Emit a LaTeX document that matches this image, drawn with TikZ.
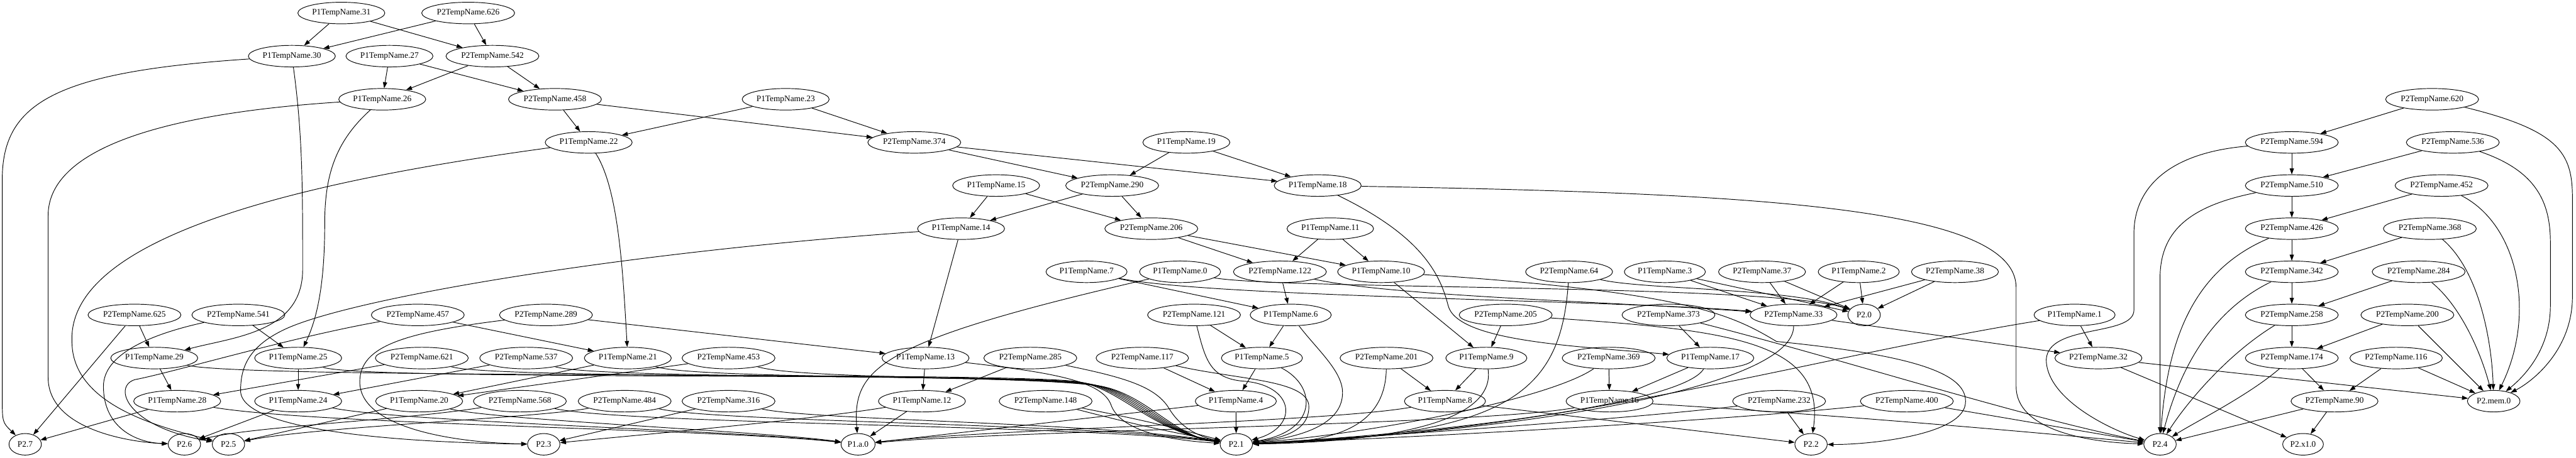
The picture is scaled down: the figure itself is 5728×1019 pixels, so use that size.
\documentclass[tikz,border=0pt]{standalone}
\usepackage{fontspec}
\setmainfont{Liberation Serif}
\usetikzlibrary{arrows.meta,shapes.geometric}

\begin{document}
\begin{tikzpicture}[x=0.75pt,y=-0.75pt]
    \useasboundingbox (0,0) rectangle (5728,1019);
    \begin{scope}[every node/.style={draw,ellipse,line width=1pt,inner xsep=2.6pt,inner ysep=0pt,
                  minimum height=36pt,minimum width=54pt,font=\fontsize{14pt}{16pt}\selectfont}]
        \node (p31) at (759,29) {P1TempName.31};
        \node (q626) at (1041,29) {P2TempName.626};

        \node (p30) at (649,125) {P1TempName.30};
        \node (p27) at (866,125) {P1TempName.27};
        \node (q542) at (1095,125) {P2TempName.542};

        \node (p26) at (850,221) {P1TempName.26};
        \node (q458) at (1234,221) {P2TempName.458};
        \node (p23) at (1747,221) {P1TempName.23};
        \node (q620) at (5408,221) {P2TempName.620};

        \node (p22) at (1309,317) {P1TempName.22};
        \node (q374) at (2033,317) {P2TempName.374};
        \node (p19) at (2638,317) {P1TempName.19};
        \node (q594) at (5096,317) {P2TempName.594};
        \node (q536) at (5454,317) {P2TempName.536};

        \node (p15) at (2215,413) {P1TempName.15};
        \node (q290) at (2473,413) {P2TempName.290};
        \node (p18) at (2930,413) {P1TempName.18};
        \node (q510) at (5096,413) {P2TempName.510};
        \node (q452) at (5429,413) {P2TempName.452};

        \node (p14) at (2137,509) {P1TempName.14};
        \node (q206) at (2560,509) {P2TempName.206};
        \node (p11) at (2958,509) {P1TempName.11};
        \node (q426) at (5096,509) {P2TempName.426};
        \node (q368) at (5403,509) {P2TempName.368};

        \node (p7) at (2416,605) {P1TempName.7};
        \node (p0) at (2624,605) {P1TempName.0};
        \node (q122) at (2846,605) {P2TempName.122};
        \node (p10) at (3071,605) {P1TempName.10};
        \node (q64) at (3489,605) {P2TempName.64};
        \node (p3) at (3702,605) {P1TempName.3};
        \node (q37) at (3918,605) {P2TempName.37};
        \node (p2) at (4133,605) {P1TempName.2};
        \node (q38) at (4347,605) {P2TempName.38};
        \node (q342) at (5096,605) {P2TempName.342};
        \node (q284) at (5378,605) {P2TempName.284};

        \node (q625) at (299,701) {P2TempName.625};
        \node (q541) at (530,701) {P2TempName.541};
        \node (q457) at (929,701) {P2TempName.457};
        \node (q289) at (1214,701) {P2TempName.289};
        \node (q121) at (2655,701) {P2TempName.121};
        \node (p6) at (2870,701) {P1TempName.6};
        \node (q205) at (3348,701) {P2TempName.205};
        \node (q373) at (3710,701) {P2TempName.373};
        \node (q33) at (3988,701) {P2TempName.33};
        \node (r0) at (4145,701) {P2.0};
        \node (p1) at (4613,701) {P1TempName.1};
        \node (q258) at (5096,701) {P2TempName.258};
        \node (q200) at (5353,701) {P2TempName.200};

        \node (p29) at (343,797) {P1TempName.29};
        \node (p25) at (663,797) {P1TempName.25};
        \node (q621) at (938,797) {P2TempName.621};
        \node (q537) at (1170,797) {P2TempName.537};
        \node (p21) at (1396,797) {P1TempName.21};
        \node (q453) at (1620,797) {P2TempName.453};
        \node (p13) at (2058,797) {P1TempName.13};
        \node (q285) at (2291,797) {P2TempName.285};
        \node (q117) at (2540,797) {P2TempName.117};
        \node (p5) at (2806,797) {P1TempName.5};
        \node (q201) at (3083,797) {P2TempName.201};
        \node (p9) at (3305,797) {P1TempName.9};
        \node (q369) at (3577,797) {P2TempName.369};
        \node (p17) at (3803,797) {P1TempName.17};
        \node (q32) at (4666,797) {P2TempName.32};
        \node (q174) at (5096,797) {P2TempName.174};
        \node (q116) at (5328,797) {P2TempName.116};

        \node (p28) at (394,893) {P1TempName.28};
        \node (p24) at (663,893) {P1TempName.24};
        \node (p20) at (932,893) {P1TempName.20};
        \node (q568) at (1156,893) {P2TempName.568};
        \node (q484) at (1389,893) {P2TempName.484};
        \node (q316) at (1620,893) {P2TempName.316};
        \node (p12) at (2050,893) {P1TempName.12};
        \node (q148) at (2325,893) {P2TempName.148};
        \node (p4) at (2748,893) {P1TempName.4};
        \node (p8) at (3213,893) {P1TempName.8};
        \node (p16) at (3579,893) {P1TempName.16};
        \node (q232) at (3956,893) {P2TempName.232};
        \node (q400) at (4240,893) {P2TempName.400};
        \node (q90) at (5191,893) {P2TempName.90};
        \node (rmem) at (5545,893) {P2.mem.0};

        \node (r7) at (56,989) {P2.7};
        \node (r6) at (410,989) {P2.6};
        \node (r5) at (508,989) {P2.5};
        \node (r3) at (1209,989) {P2.3};
        \node (ra0) at (1908,989) {P1.a.0};
        \node (r1) at (2749,989) {P2.1};
        \node (r2) at (4027,989) {P2.2};
        \node (r4) at (4803,989) {P2.4};
        \node (rx1) at (5121,989) {P2.x1.0};
    \end{scope}

    \begin{scope}[>={Triangle[length=10pt,width=7pt]},
                  every edge/.style={draw=black,line width=1pt},
                  wire/.style={draw=black,line width=1pt,->}]
        \path [->] (p31) edge (p30);
        \path [->] (p31) edge (q542);
        \path [->] (q626) edge (p30);
        \path [->] (q626) edge (q542);
        \path [->] (p27) edge (p26);
        \path [->] (p27) edge (q458);
        \path [->] (q542) edge (p26);
        \path [->] (q542) edge (q458);
        \path [->] (p23) edge (p22);
        \path [->] (p23) edge (q374);
        \path [->] (q458) edge (p22);
        \path [->] (q458) edge (q374);
        \path [->] (p19) edge (q290);
        \path [->] (p19) edge (p18);
        \path [->] (q374) edge (q290);
        \path [->] (q374) edge (p18);
        \path [->] (p15) edge (p14);
        \path [->] (p15) edge (q206);
        \path [->] (q290) edge (p14);
        \path [->] (q290) edge (q206);
        \path [->] (p11) edge (q122);
        \path [->] (p11) edge (p10);
        \path [->] (q206) edge (q122);
        \path [->] (q206) edge (p10);
        \path [->] (p7) edge (p6);
        \path [->] (q122) edge (p6);
        \path [wire] (p7) .. controls (2700,662) and (3600,668) .. (q33);
        \path [wire] (q122) .. controls (3100,660) and (3600,672) .. (q33);

        \path [wire] (p30) .. controls (120,160) and (5,230) .. (5,400) -- (5,880) .. controls (5,940) .. (r7);
        \path [wire] (p30) .. controls (673,300) and (673,420) .. (673,600) .. controls (673,740) and (520,750) .. (p29);
        \path [->] (q625) edge (p29);
        \path [->] (q625) edge (r7);
        \path [wire] (p26) .. controls (400,250) and (107,320) .. (107,480) -- (107,840) .. controls (107,960) and (300,985) .. (r6);
        \path [wire] (p26) .. controls (740,320) and (722,400) .. (722,500) .. controls (722,650) and (700,720) .. (p25);
        \path [->] (q541) edge (p25);
        \path [wire] (q541) .. controls (330,745) and (230,790) .. (230,860) .. controls (230,950) and (300,985) .. (r6);
        \path [wire] (p22) .. controls (1375,420) and (1385,600) .. (p21);
        \path [wire] (p22) .. controls (700,400) and (150,520) .. (160,760) .. controls (160,900) and (350,950) .. (r5);
        \path [->] (q457) edge (p21);
        \path [wire] (q457) .. controls (650,750) and (380,830) .. (300,845) .. controls (250,860) and (280,950) .. (r5);
        \path [->] (p14) edge (p13);
        \path [wire] (p14) .. controls (1400,560) and (800,660) .. (640,730) .. controls (550,770) and (535,820) .. (535,870) .. controls (535,960) and (900,985) .. (r3);
        \path [->] (q289) edge (p13);
        \path [wire] (q289) .. controls (900,740) and (800,770) .. (800,850) .. controls (800,950) and (1000,985) .. (r3);
        \path [->] (p10) edge (p9);
        \path [->] (q205) edge (p9);
        \path [wire] (p10) .. controls (3750,650) and (3850,700) .. (3950,760) .. controls (4250,790) and (4380,830) .. (4370,900) .. controls (4360,970) and (4150,990) .. (r2);
        \path [wire] (q205) .. controls (3850,735) and (4060,760) .. (r2);
        \path [wire] (p18) .. controls (3150,520) and (3200,600) .. (3220,680) .. controls (3240,760) and (3500,770) .. (p17);
        \path [->] (q373) edge (p17);
        \path [wire] (p18) .. controls (3900,430) and (4483,460) .. (4483,640) -- (4483,860) .. controls (4483,960) and (4650,985) .. (r4);
        \path [wire] (q373) .. controls (4100,800) and (4500,930) .. (r4);
        \path [->] (q121) edge (p5);
        \path [->] (p6) edge (p5);
        \path [wire] (q121) .. controls (2680,800) and (2690,840) .. (2760,848) .. controls (2880,855) and (2890,950) .. (r1);
        \path [wire] (p6) .. controls (2930,780) and (2990,830) .. (2985,880) .. controls (2980,950) and (2880,975) .. (r1);

        \path [->] (p29) edge (p28);
        \path [->] (q621) edge (p28);
        \path [->] (p25) edge (p24);
        \path [->] (q537) edge (p24);
        \path [->] (p21) edge (p20);
        \path [->] (q453) edge (p20);
        \path [->] (p17) edge (p16);
        \path [->] (q369) edge (p16);
        \path [->] (p13) edge (p12);
        \path [->] (q285) edge (p12);
        \path [->] (p9) edge (p8);
        \path [->] (q201) edge (p8);
        \path [->] (p5) edge (p4);
        \path [->] (q117) edge (p4);
        \path [wire] (p29) .. controls (560,845) and (2250,826) .. (2400,850) .. controls (2500,870) and (2560,960) .. (r1);
        \path [wire] (p25) .. controls (800,848) and (2260,828) .. (2410,852) .. controls (2510,872) and (2570,962) .. (r1);
        \path [wire] (q621) .. controls (1100,845) and (2270,830) .. (2420,854) .. controls (2520,874) and (2580,964) .. (r1);
        \path [wire] (q537) .. controls (1330,845) and (2280,832) .. (2430,856) .. controls (2530,876) and (2590,966) .. (r1);
        \path [wire] (p21) .. controls (1550,845) and (2290,834) .. (2440,858) .. controls (2540,878) and (2600,968) .. (r1);
        \path [wire] (q453) .. controls (1780,845) and (2300,836) .. (2450,860) .. controls (2550,880) and (2610,970) .. (r1);
        \path [wire] (p13) .. controls (2350,830) and (2450,850) .. (2470,900) .. controls (2490,960) and (2600,980) .. (r1);
        \path [wire] (q285) .. controls (2500,840) and (2570,860) .. (2600,910) .. controls (2630,960) and (2680,975) .. (r1);
        \path [wire] (q117) .. controls (2750,845) and (2900,845) .. (2910,900) .. controls (2915,960) and (2850,975) .. (r1);
        \path [wire] (p5) .. controls (2930,860) and (2930,960) .. (r1);
        \path [wire] (q201) .. controls (3080,960) and (2950,985) .. (r1);
        \path [wire] (p9) .. controls (3330,960) and (3000,985) .. (r1);
        \path [wire] (q369) .. controls (3460,880) and (3100,960) .. (r1);
        \path [wire] (p17) .. controls (3740,900) and (3200,965) .. (r1);

        \path [->] (p28) edge (r7);
        \path [wire] (p28) .. controls (700,945) and (1600,955) .. (ra0);
        \path [->] (p24) edge (r6);
        \path [wire] (p24) .. controls (900,940) and (1650,958) .. (ra0);
        \path [->] (p20) edge (r5);
        \path [wire] (p20) .. controls (1100,935) and (1700,960) .. (ra0);
        \path [wire] (q568) .. controls (900,935) and (550,950) .. (r6);
        \path [wire] (q568) .. controls (1400,945) and (2400,945) .. (r1);
        \path [wire] (q484) .. controls (1200,930) and (700,950) .. (r5);
        \path [wire] (q484) .. controls (1600,940) and (2420,942) .. (r1);
        \path [wire] (p12) .. controls (1800,935) and (1400,970) .. (r3);
        \path [->] (p12) edge (ra0);
        \path [->] (q316) edge (r3);
        \path [wire] (q316) .. controls (1800,935) and (2440,940) .. (r1);
        \path [->] (p4) edge (r1);
        \path [->] (p4) edge (ra0);
        \path [->] (q148) edge [bend left=2] (r1);
        \path [->] (q148) edge [bend right=2] (r1);
        \path [->] (p8) edge (r2);
        \path [wire] (p8) .. controls (2950,940) and (2200,955) .. (ra0);
        \path [->] (q232) edge (r2);
        \path [wire] (q232) .. controls (3600,935) and (3000,975) .. (r1);
        \path [wire] (p16) .. controls (4100,925) and (4500,960) .. (r4);
        \path [wire] (p16) .. controls (3300,945) and (2250,958) .. (ra0);
        \path [->] (q400) edge (r4);
        \path [wire] (q400) .. controls (3800,940) and (3050,978) .. (r1);

        \path [wire] (p0) .. controls (1950,760) and (1895,820) .. (ra0);
        \path [wire] (p0) .. controls (2850,645) and (3950,632) .. (r0);
        \path [wire] (q64) .. controls (3650,645) and (3980,640) .. (r0);
        \path [wire] (q64) .. controls (3470,880) and (3350,970) .. (r1);
        \path [->] (p3) edge (q33);
        \path [->] (p3) edge (r0);
        \path [->] (q37) edge (q33);
        \path [->] (q37) edge (r0);
        \path [->] (p2) edge (q33);
        \path [->] (p2) edge (r0);
        \path [->] (q38) edge (q33);
        \path [->] (q38) edge (r0);
        \path [->] (q33) edge (q32);
        \path [wire] (q33) .. controls (3990,860) and (3400,960) .. (r1);
        \path [->] (p1) edge (q32);
        \path [wire] (p1) .. controls (4000,800) and (3500,960) .. (r1);
        \path [->] (q32) edge (rmem);
        \path [->] (q32) edge (rx1);

        \path [->] (q620) edge (q594);
        \path [wire] (q620) .. controls (5690,290) and (5720,340) .. (5720,440) -- (5720,660) .. controls (5720,780) and (5630,850) .. (rmem);
        \path [->] (q594) edge (q510);
        \path [wire] (q594) .. controls (4820,340) and (4745,420) .. (4745,520) -- (4745,690) .. controls (4745,750) and (4555,720) .. (4550,800) .. controls (4550,890) and (4700,960) .. (r4);
        \path [->] (q536) edge (q510);
        \path [wire] (q536) .. controls (5640,380) and (5671,450) .. (5671,540) -- (5671,680) .. controls (5671,780) and (5610,840) .. (rmem);
        \path [->] (q510) edge (q426);
        \path [wire] (q510) .. controls (4860,460) and (4803,520) .. (4803,620) -- (r4);
        \path [->] (q452) edge (q426);
        \path [wire] (q452) .. controls (5600,500) and (5640,700) .. (rmem);
        \path [->] (q426) edge (q342);
        \path [wire] (q426) .. controls (4880,600) and (4820,750) .. (r4);
        \path [->] (q368) edge (q342);
        \path [wire] (q368) .. controls (5510,600) and (5540,750) .. (rmem);
        \path [->] (q342) edge (q258);
        \path [wire] (q342) .. controls (4900,700) and (4840,850) .. (r4);
        \path [->] (q284) edge (q258);
        \path [wire] (q284) .. controls (5470,680) and (5515,780) .. (rmem);
        \path [->] (q258) edge (q174);
        \path [wire] (q258) .. controls (4950,790) and (4860,900) .. (r4);
        \path [->] (q200) edge (q174);
        \path [->] (q200) edge (rmem);
        \path [->] (q174) edge (q90);
        \path [wire] (q174) .. controls (5000,880) and (4880,940) .. (r4);
        \path [->] (q116) edge (q90);
        \path [->] (q116) edge (rmem);
        \path [->] (q90) edge (r4);
        \path [->] (q90) edge (rx1);
    \end{scope}
\end{tikzpicture}
\end{document}
